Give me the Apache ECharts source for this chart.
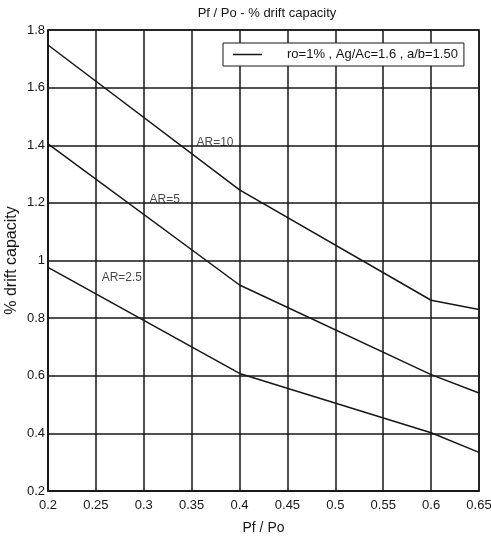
<!DOCTYPE html>
<html>
<head>
<meta charset="utf-8">
<style>
  html, body { margin: 0; padding: 0; background: #fff; }
  #chart { width: 491px; height: 543px; }
</style>
<script src="https://cdn.jsdelivr.net/npm/echarts@6/dist/echarts.min.js"></script>
</head>
<body>
<div id="chart"></div>
<script>
// Axial load ratio Pf/Po
const pfPo = [0.2, 0.4, 0.6, 0.65];

// % drift capacity for each aspect ratio
const driftAR10 = [1.748, 1.245, 0.862, 0.830];
const driftAR5 = [1.405, 0.915, 0.604, 0.540];
const driftAR25 = [0.976, 0.608, 0.402, 0.334];

// Curve labels and where each label starts (Pf/Po, drift)
const curveLabels = ['AR=10', 'AR=5', 'AR=2.5'];
const labelAnchorX = [0.355, 0.306, 0.256];
const labelAnchorY = [1.41, 1.21, 0.942];

const legendText = 'ro=1% , Ag/Ac=1.6 , a/b=1.50';
const titleText = 'Pf / Po - % drift capacity';
const xName = 'Pf / Po';
const yName = '% drift capacity';

const ink = '#161616';
const font = 'Liberation Sans, Arial, sans-serif';

function pairs(xs, ys) {
  return xs.map((x, i) => [x, ys[i]]);
}
function tidy(v) {
  return String(+v.toFixed(2));
}

const lineStyle = { color: ink, width: 1.5 };

const chart = echarts.init(document.getElementById('chart'), null, { renderer: 'canvas' });

chart.setOption({
  animation: false,
  backgroundColor: '#fff',
  title: {
    text: titleText,
    left: 262,
    top: 2,
    textAlign: 'center',
    textStyle: { fontFamily: font, fontSize: 13, fontWeight: 'normal', color: ink }
  },
  grid: {
    left: 48, right: 12, top: 30, bottom: 52,
    show: true, borderColor: ink, borderWidth: 1.5,
    containLabel: false,
    outerBoundsMode: 'none'
  },
  legend: {
    data: [legendText],
    left: 223,
    top: 43,
    orient: 'horizontal',
    icon: 'rect',
    itemWidth: 29,
    itemHeight: 1.5,
    padding: [5, 6, 5, 10],
    backgroundColor: '#fff',
    borderColor: ink,
    borderWidth: 1,
    borderRadius: 0,
    selectedMode: false,
    textStyle: { fontFamily: font, fontSize: 13, color: ink, padding: [0, 0, 0, 20] }
  },
  xAxis: {
    type: 'value',
    min: 0.2, max: 0.65, interval: 0.05,
    name: xName,
    nameLocation: 'middle',
    nameGap: 30,
    nameMoveOverlap: false,
    nameTextStyle: { fontFamily: font, fontSize: 14, color: ink },
    axisLine: { show: true, lineStyle: { color: ink, width: 1.5 } },
    axisTick: { show: false },
    axisLabel: {
      margin: 8, formatter: tidy, showMaxLabel: true, showMinLabel: true,
      fontFamily: font, fontSize: 13, color: ink
    },
    splitLine: { show: true, lineStyle: { color: ink, width: 1.5 } }
  },
  yAxis: {
    type: 'value',
    min: 0.2, max: 1.8, interval: 0.2,
    name: yName,
    nameLocation: 'middle',
    nameGap: 28,
    nameMoveOverlap: false,
    nameTextStyle: { fontFamily: font, fontSize: 16, color: ink },
    axisLine: { show: true, lineStyle: { color: ink, width: 1.5 } },
    axisTick: { show: false },
    axisLabel: {
      margin: 3, formatter: tidy, showMaxLabel: true, showMinLabel: true,
      fontFamily: font, fontSize: 13, color: ink
    },
    splitLine: { show: true, lineStyle: { color: ink, width: 1.5 } }
  },
  series: [
    {
      name: legendText, type: 'line', data: pairs(pfPo, driftAR10),
      showSymbol: false, symbol: 'none', lineStyle: lineStyle, itemStyle: { color: ink }
    },
    {
      name: 'AR5', type: 'line', data: pairs(pfPo, driftAR5),
      showSymbol: false, symbol: 'none', lineStyle: lineStyle, itemStyle: { color: ink }
    },
    {
      name: 'AR25', type: 'line', data: pairs(pfPo, driftAR25),
      showSymbol: false, symbol: 'none', lineStyle: lineStyle, itemStyle: { color: ink }
    },
    {
      name: 'curve labels', type: 'scatter', silent: true,
      symbolSize: 0,
      data: curveLabels.map((t, i) => ({ value: [labelAnchorX[i], labelAnchorY[i]], name: t })),
      label: {
        show: true, position: 'right', distance: 0,
        formatter: p => p.name,
        fontFamily: font, fontSize: 12, color: ink
      },
      z: 5
    }
  ]
});
</script>
</body>
</html>
